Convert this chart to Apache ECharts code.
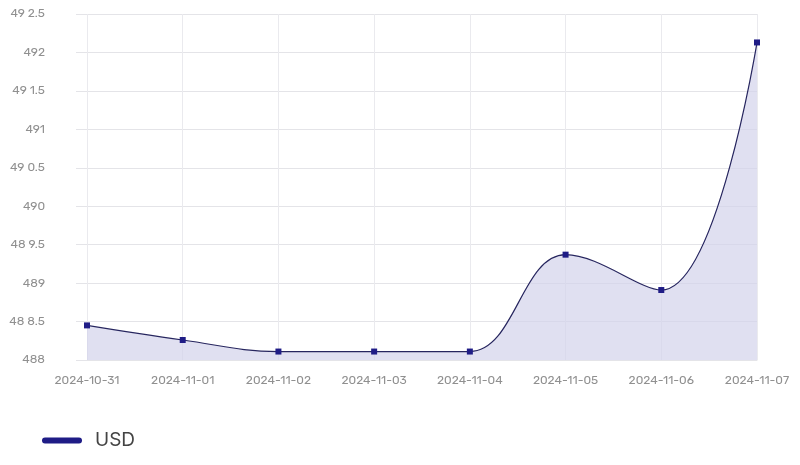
<!DOCTYPE html>
<html>
<head>
<meta charset="utf-8">
<script src="https://cdn.jsdelivr.net/npm/echarts@6/dist/echarts.min.js"></script>
<style>html,body{margin:0;padding:0;background:#fff}#c{width:800px;height:465px}</style>
</head>
<body>
<div id="c"></div>
<script>
const categories = ["2024-10-31","2024-11-01","2024-11-02","2024-11-03","2024-11-04","2024-11-05","2024-11-06","2024-11-07"];
const usdValues = [488.45, 488.26, 488.11, 488.11, 488.11, 489.37, 488.91, 492.13];
const yTickLabels = ["488","48 8.5","489","48 9.5","490","49 0.5","491","49 1.5","492","49 2.5"];
const yMin = 488, yMax = 492.5, yStep = 0.5;

const chart = echarts.init(document.getElementById('c'));
chart.setOption({
  animation: false,
  textStyle: { fontFamily: 'Rubik, Inter, "Noto Sans", sans-serif' },
  grid: { left: 87, right: 43, top: 14, bottom: 105 },
  legend: {
    left: 37, bottom: 10,
    data: [{ name: 'USD', icon: 'path://M3,0 L37,0 A3,3 0 0 1 37,6 L3,6 A3,3 0 0 1 3,0 Z' }],
    itemWidth: 40, itemHeight: 7,
    itemGap: 10,
    textStyle: { fontSize: 19, color: '#444', padding: [0, 0, 0, 8], fontFamily: 'Inter, "Noto Sans", sans-serif' }
  },
  xAxis: {
    type: 'category',
    data: categories,
    boundaryGap: false,
    axisLine: { show: true, lineStyle: { color: '#e4e4e8' } },
    axisTick: { show: false },
    axisLabel: { color: '#909090', fontSize: 12, margin: 15 },
    splitLine: { show: true, lineStyle: { color: '#eaeaee' } }
  },
  yAxis: {
    type: 'value',
    min: yMin, max: yMax, interval: yStep,
    axisLine: { show: false },
    axisTick: { show: true, length: 11, lineStyle: { color: '#e4e4e8' } },
    axisLabel: {
      color: '#909090', fontSize: 12, margin: 42,
      formatter: v => yTickLabels[Math.round((v - yMin) / yStep)]
    },
    splitLine: { show: true, lineStyle: { color: '#e4e4e8' } }
  },
  series: [{
    name: 'USD',
    type: 'line',
    data: usdValues,
    smooth: 0.4,
    symbol: 'rect',
    symbolSize: 6,
    lineStyle: { color: '#27265f', width: 1.2 },
    itemStyle: { color: '#1f1c86' },
    areaStyle: { color: '#d3d3eb' }
  }]
});
</script>
</body>
</html>
